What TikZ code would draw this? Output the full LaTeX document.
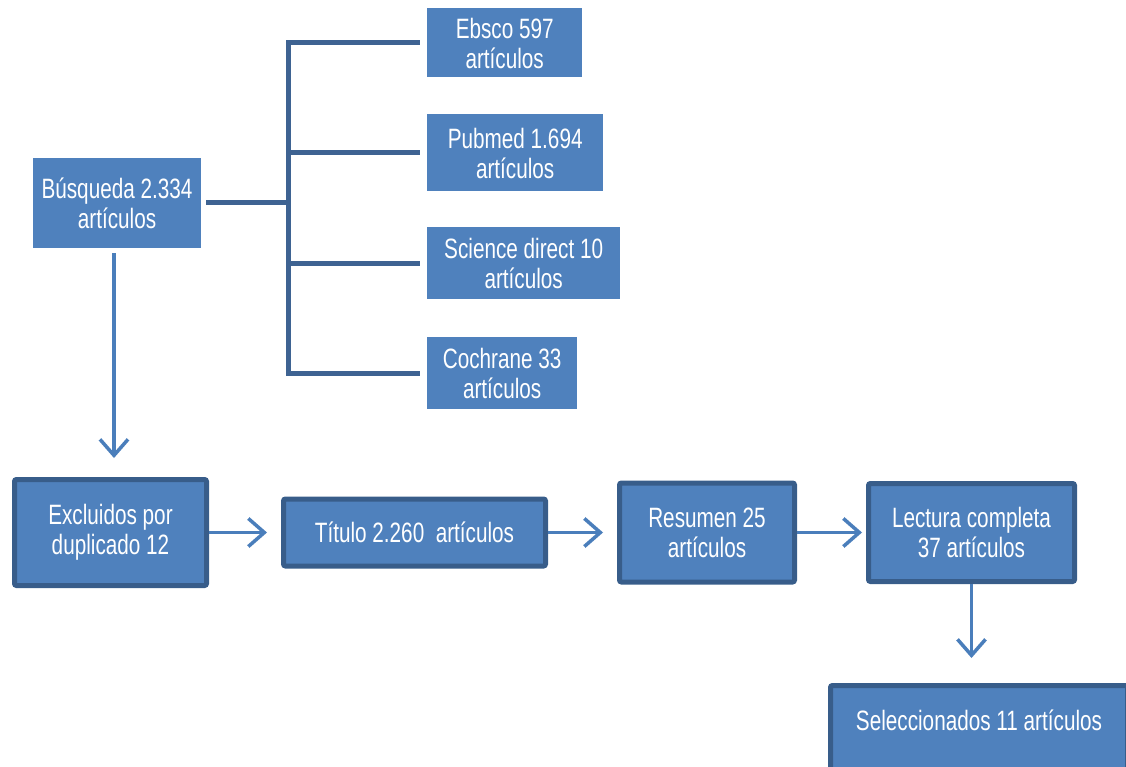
\documentclass[tikz,border=0pt]{standalone}
\usepackage{fontspec}
\setmainfont[FakeStretch=0.74]{Liberation Sans}
\usepackage{tikz}
\usetikzlibrary{trees,positioning,arrows.meta}
\definecolor{caja}{RGB}{79,129,189}
\definecolor{borde}{RGB}{56,93,138}
\definecolor{linea}{RGB}{62,99,146}
\definecolor{flecha}{RGB}{74,126,187}

\begin{document}
\begin{tikzpicture}[%
		x=1pt,y=-1pt,
		fuente/.style={fill=caja,text=white,align=center,inner sep=0pt,
		  font=\fontsize{28}{30}\selectfont},
		etapa/.style={fuente,draw=borde,line width=5pt,rounded corners=2pt},
		paso/.style={draw=flecha,line width=3.5pt,-{Straight Barb[length=16pt,width=28pt]}},
		grow via three points={one child at (310,-160) and
		two children at (310,-160) and (310,-50)},
		every child node/.style={anchor=west},
		edge from parent/.style={draw=linea,line width=5pt},
		edge from parent path={([xshift=5pt]\tikzparentnode.east) -- ++(82,0)
		  |- ([xshift=-7pt]\tikzchildnode.west)}]
		\useasboundingbox (0,0) rectangle (1126,767);
		\node[fuente,minimum width=168,minimum height=90] (busqueda) at (117,203) {Búsqueda 2.334\\artículos}
		  child { node[fuente,minimum width=155,minimum height=69] (ebsco) {Ebsco 597\\artículos}}
		  child { node[fuente,minimum width=176,minimum height=77] (pubmed) {Pubmed 1.694\\artículos}}
		  child { node[fuente,minimum width=193,minimum height=72] (science) {Science direct 10\\artículos}}
		  child { node[fuente,minimum width=150,minimum height=72] (cochrane) {Cochrane 33\\artículos}};
		\node[etapa,minimum width=192,minimum height=106] (excluidos) at (110.5,532.5) {Excluidos por\\duplicado 12};
		\node[etapa,minimum width=262,minimum height=67,right=72pt of excluidos] (titulo) {Título 2.260\ \ artículos};
		\node[etapa,minimum width=175,minimum height=99,right=69pt of titulo] (resumen) {Resumen 25\\artículos};
		\node[etapa,minimum width=206,minimum height=98,right=69pt of resumen] (lectura) {Lectura completa\\37 artículos};
		\node[etapa,minimum width=297,inner ysep=0pt,text height=45pt,text depth=55pt,anchor=north west]
		  (seleccionados) at (828,683) {Seleccionados 11 artículos};
		\draw[paso,shorten <=5pt,shorten >=19pt] ([xshift=-3pt]busqueda.south) -- ([xshift=-3pt]busqueda.south |- excluidos.north);
		\draw[paso,shorten >=14pt] (excluidos) -- (titulo);
		\draw[paso,shorten >=14pt] (titulo) -- (resumen);
		\draw[paso,shorten >=4pt] (resumen) -- (lectura);
		\draw[paso,shorten >=25pt] (lectura) -- (lectura |- seleccionados.north);
\end{tikzpicture}
\end{document}
